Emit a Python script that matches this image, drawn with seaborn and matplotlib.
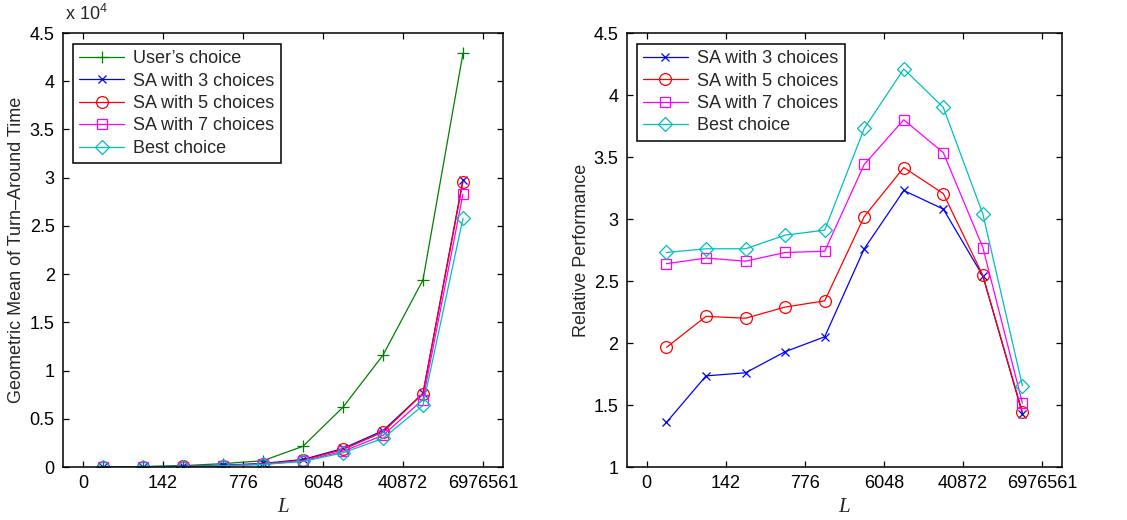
import numpy as np
import pandas as pd
import matplotlib
matplotlib.use("Agg")
import matplotlib.pyplot as plt
import seaborn as sns

# ---- data ----
x_pos = [1, 2, 3, 4, 5, 6, 7, 8, 9, 10]
tick_pos = [0.5, 2.5, 4.5, 6.5, 8.5, 10.5]
tick_labels = ["0", "142", "776", "6048", "40872", "6976561"]

# left panel: geometric mean of turn-around time (x 1e4)
user_choice = [0.002, 0.005, 0.014, 0.035, 0.065, 0.215, 0.62, 1.16, 1.94, 4.29]
sa3_tat = [0.001, 0.003, 0.008, 0.018, 0.037, 0.078, 0.192, 0.377, 0.764, 2.98]
sa5_tat = [0.001, 0.002, 0.006, 0.015, 0.033, 0.071, 0.182, 0.362, 0.762, 2.96]
sa7_tat = [0.001, 0.002, 0.005, 0.013, 0.028, 0.0625, 0.163, 0.328, 0.700, 2.83]
best_tat = [0.001, 0.002, 0.005, 0.012, 0.0265, 0.0576, 0.147, 0.297, 0.638, 2.58]

# right panel: relative performance
sa3_rel = [1.36, 1.735, 1.76, 1.93, 2.05, 2.76, 3.23, 3.08, 2.54, 1.43]
sa5_rel = [1.965, 2.215, 2.20, 2.29, 2.34, 3.02, 3.415, 3.205, 2.545, 1.44]
sa7_rel = [2.64, 2.685, 2.66, 2.73, 2.74, 3.44, 3.80, 3.535, 2.77, 1.515]
best_rel = [2.73, 2.76, 2.76, 2.87, 2.91, 3.73, 4.21, 3.90, 3.04, 1.655]

sns.set_style("ticks")
plt.rcParams["font.family"] = ["Liberation Sans", "DejaVu Sans"]
plt.rcParams["mathtext.fontset"] = "custom"
plt.rcParams["mathtext.rm"] = "Liberation Sans"

fig = plt.figure(figsize=(11.27, 5.20), dpi=100)
ax1 = fig.add_axes([0.0559, 0.1019, 0.3904, 0.8346])
ax2 = fig.add_axes([0.5563, 0.1019, 0.386, 0.8346])

green = (0, 0.5, 0)
blue = (0, 0, 1)
red = (1, 0, 0)
mag = (1, 0, 1)
cyan = (0, 0.75, 0.75)

lw = 0.9

def draw(ax, y, label, color, marker, open_marker, size):
    df = pd.DataFrame({"x": x_pos, "y": y})
    kw = dict(marker=marker, markersize=size, markeredgewidth=0.9,
              linewidth=lw, color=color, label=label, markeredgecolor=color)
    if open_marker:
        kw["markerfacecolor"] = "none"
    sns.lineplot(data=df, x="x", y="y", ax=ax, **kw)

draw(ax1, user_choice, "User\u2019s choice", green, "+", False, 9)
draw(ax1, sa3_tat, "SA with 3 choices", blue, "x", False, 6)
draw(ax1, sa5_tat, "SA with 5 choices", red, "o", True, 8.5)
draw(ax1, sa7_tat, "SA with 7 choices", mag, "s", True, 7.5)
draw(ax1, best_tat, "Best choice", cyan, "D", True, 7)

draw(ax2, sa3_rel, "SA with 3 choices", blue, "x", False, 6)
draw(ax2, sa5_rel, "SA with 5 choices", red, "o", True, 8.5)
draw(ax2, sa7_rel, "SA with 7 choices", mag, "s", True, 7.5)
draw(ax2, best_rel, "Best choice", cyan, "D", True, 7)

fs = 13
for ax in (ax1, ax2):
    ax.set_xlim(0, 11)
    ax.set_xticks(tick_pos)
    ax.set_xticklabels(tick_labels, fontsize=fs)
    ax.tick_params(direction="in", top=True, right=True, length=4.5, width=0.9,
                   labelsize=fs, pad=6, colors="black")
    for s in ax.spines.values():
        s.set_visible(True)
        s.set_linewidth(1.1)
        s.set_color("black")
    ax.set_xlabel("L", fontsize=15, fontstyle="italic", family="Liberation Serif", labelpad=4)
    ax.grid(False)

ax1.set_ylim(0, 4.5)
ax1.set_yticks(np.arange(0, 4.51, 0.5))
ax1.set_yticklabels(["0", "0.5", "1", "1.5", "2", "2.5", "3", "3.5", "4", "4.5"])
ax1.set_ylabel("Geometric Mean of Turn\u2013Around Time", fontsize=fs, labelpad=3)
ax1.text(0.005, 1.02, r"x $10^{4}$", transform=ax1.transAxes, fontsize=fs,
         ha="left", va="bottom")

ax2.set_ylim(1, 4.5)
ax2.set_yticks(np.arange(1, 4.51, 0.5))
ax2.set_yticklabels(["1", "1.5", "2", "2.5", "3", "3.5", "4", "4.5"])
ax2.set_ylabel("Relative Performance", fontsize=fs, labelpad=3)

for ax in (ax1, ax2):
    leg = ax.legend(loc="upper left", bbox_to_anchor=(0.022, 0.975), fontsize=fs,
                    frameon=True, fancybox=False, edgecolor="black",
                    handlelength=2.5, handletextpad=0.5, borderpad=0.35,
                    labelspacing=0.3, borderaxespad=0)
    leg.get_frame().set_linewidth(1.1)
    leg.get_frame().set_facecolor("white")
    leg.get_frame().set_alpha(1.0)

fig.savefig("out.png", dpi=100, facecolor="white")
